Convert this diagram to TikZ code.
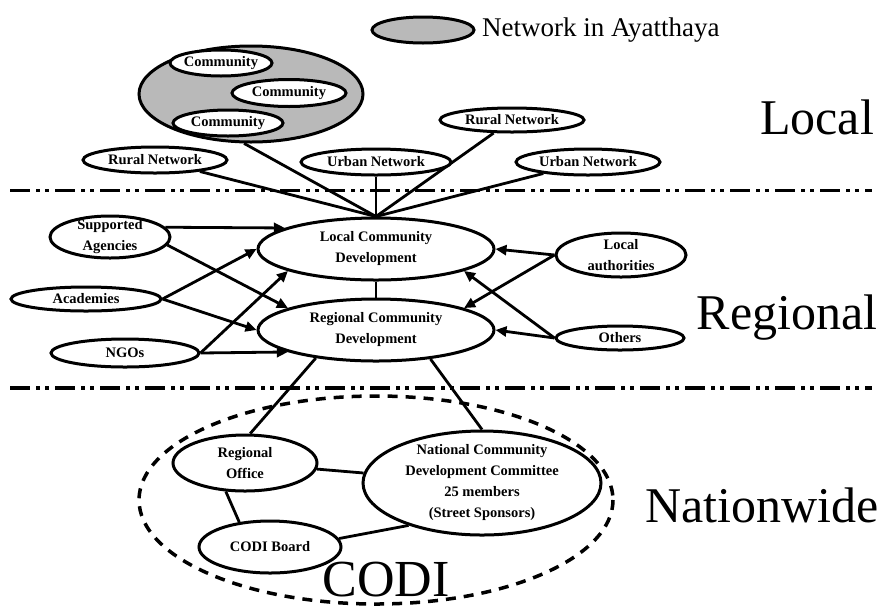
\documentclass[tikz,border=0pt]{standalone}
\usepackage{fontspec}
\setmainfont{Liberation Serif}
\usetikzlibrary{shapes.geometric,arrows.meta,backgrounds}
\begin{document}
\begin{tikzpicture}[x=1pt,y=-1pt,
  el/.style={ellipse,draw,line width=3pt,fill=white,inner sep=0pt},
  grp/.style={ellipse,draw,line width=3pt,fill=gray!55,inner sep=0pt},
  lbl/.style={align=center,inner sep=0pt,font=\fontsize{14.5}{21}\selectfont\bfseries},
  conn/.style={line width=2.8pt},
  arr/.style={line width=2.8pt,-{Triangle[length=11pt,width=10pt]}},
  sep/.style={line width=3pt,dash pattern=on 20pt off 6pt on 4pt off 5pt on 4pt off 6pt},
  bigtxt/.style={inner sep=0pt,font=\fontsize{50}{50}\selectfont}
]
\useasboundingbox (0,0) rectangle (885,606);

% separators and CODI boundary
\draw[sep] (10,190) -- (872,190);
\draw[sep,line width=4.5pt] (10,388) -- (872,388);
\draw[line width=3.5pt,dash pattern=on 10pt off 8pt] (376,500) ellipse [x radius=237, y radius=104];

% legend
\node[grp,minimum width=102,minimum height=26] (leg) at (423,30) {};
\node[anchor=west,inner sep=0pt,font=\fontsize{27}{27}\selectfont] (legt) at (482,30) {Network in Ayatthaya};

% local level
\node[grp,minimum width=224,minimum height=96] (grey) at (251,94) {};
\node[el,minimum width=102,minimum height=26,label={[lbl]center:Community}] (c1) at (221,63) {};
\node[el,minimum width=114,minimum height=27,label={[lbl]center:Community}] (c2) at (289,93) {};
\node[el,minimum width=110,minimum height=26,label={[lbl]center:Community}] (c3) at (228,123) {};
\node[el,minimum width=144,minimum height=26,label={[lbl]center:Rural Network}] (rl) at (155,160) {};
\node[el,minimum width=150,minimum height=26,label={[lbl]center:Urban Network}] (um) at (376,162) {};
\node[el,minimum width=144,minimum height=24,label={[lbl]center:Rural Network}] (rr) at (512,120) {};
\node[el,minimum width=144,minimum height=26,label={[lbl]center:Urban Network}] (ur) at (588,162) {};

% regional level
\node[el,minimum width=236,minimum height=62,label={[lbl]center:Local Community\\Development}] (lcd) at (376,249) {};
\node[el,minimum width=236,minimum height=62,label={[lbl]center:Regional Community\\Development}] (rcd) at (376,330) {};
\node[el,minimum width=120,minimum height=42,label={[lbl]center:Supported\\Agencies}] (sa) at (110,237) {};
\node[el,minimum width=150,minimum height=24,label={[lbl]center:Academies}] (ac) at (86,299) {};
\node[el,minimum width=148,minimum height=28,label={[lbl]center:NGOs}] (ng) at (125,353) {};
\node[el,minimum width=130,minimum height=44,label={[lbl]center:Local\\authorities}] (la) at (621,255) {};
\node[el,minimum width=128,minimum height=24,label={[lbl]center:Others}] (ot) at (620,338) {};

% nationwide level
\node[el,minimum width=144,minimum height=56,label={[lbl]center:Regional\\Office}] (ro) at (245,463) {};
\node[el,minimum width=238,minimum height=104] (nc) at (482,483) {};
\node[lbl] (nct) at (nc.center) {National Community\\Development Committee\\25 members\\(Street Sponsors)};
\node[el,minimum width=142,minimum height=52,label={[lbl]center:CODI Board}] (cb) at (270,547) {};

% level titles
\node[bigtxt] (tloc) at (817,117) {Local};
\node[bigtxt] (treg) at (787,318) {Regional};
\node[bigtxt] (tnat) at (762,505) {Nationwide};
\node[bigtxt,font=\fontsize{52}{52}\selectfont,anchor=base] (tcodi) at (386,596) {CODI};

% connectors
\begin{scope}[on background layer]
\draw[conn] (rl) -- (lcd.north);
\draw[conn] (grey.262) -- (lcd.north);
\draw[conn] (um) -- (lcd.north);
\draw[conn] (rr) -- (lcd.north);
\draw[conn] (ur) -- (lcd.north);

\draw[arr] (sa.10) -- (lcd.167);
\draw[arr] (sa.-8) -- (rcd.166);
\draw[arr] (ac.east) -- (lcd.180);
\draw[arr] (ac.east) -- (rcd.180);
\draw[arr] (ng.east) -- (lcd.194);
\draw[arr] (ng.east) -- (rcd.194);
\draw[arr] (la.west) -- (lcd.0);
\draw[arr] (la.west) -- (rcd.14);
\draw[arr] (ot.west) -- (lcd.346);
\draw[arr] (ot.west) -- (rcd.0);
\draw[conn] (lcd.south) -- (rcd.north);

\draw[conn] (rcd.205) -- (ro.80);
\draw[conn] (rcd.332) -- (nc.north);
\draw[conn] (ro) -- (nc);
\draw[conn] (ro.236) -- (cb.141);
\draw[conn] (cb.7) -- (nc.210);
\end{scope}
\end{tikzpicture}
\end{document}
